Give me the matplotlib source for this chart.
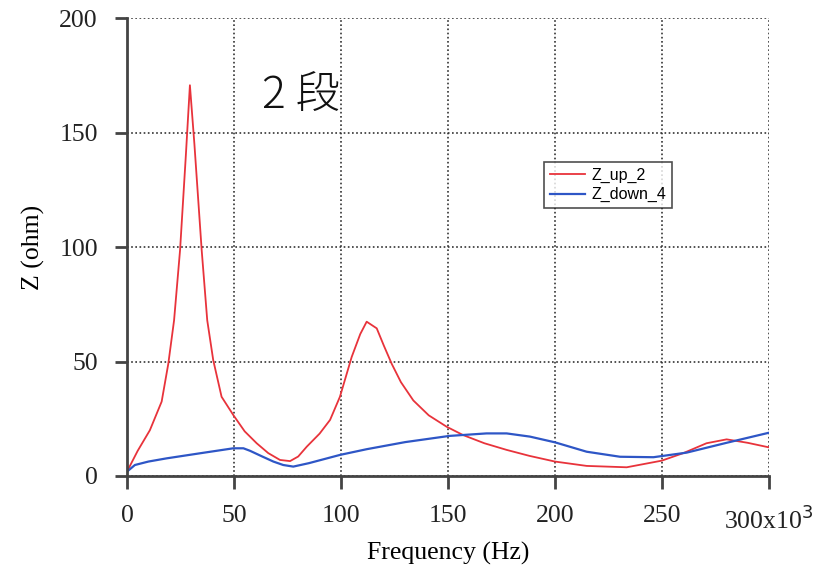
"""Impedance vs frequency for the 2-stage setup."""

import matplotlib.pyplot as plt

# frequency in kHz (axis shows x10^3 Hz)
FREQ_UP = [0, 5, 10.7, 16.2, 19.3, 22, 24.8, 27.5, 29.4, 31.5, 34.9, 37.5, 40.3, 44.2,
           49.7, 55, 60.6, 66, 71.5, 76.2, 80, 84, 90, 94.9, 99.5, 105, 109, 112,
           116.7, 120, 123.7, 128, 133.8, 141, 149.4, 157, 167, 177.4, 188, 200,
           214.8, 233.5, 249.9, 260, 270.8, 280.2, 290, 300]
Z_UP = [1.9, 11, 20, 32.5, 49, 68, 98.7, 140, 170.7, 145, 98.7, 68, 50.6, 34.6,
        26.6, 19.5, 14.3, 10, 7, 6.5, 8.5, 12.8, 18.5, 24.5, 34.6, 52, 62, 67.4,
        64.5, 57, 49, 41, 33, 26.5, 21.5, 17.9, 14.3, 11.4, 8.8, 6.3,
        4.4, 3.8, 6.7, 10, 14.3, 16, 14.5, 12.5]

FREQ_DOWN = [0, 3.7, 10, 18.5, 34, 49.7, 54.4, 57.5, 63, 68.4, 73, 77.7, 85, 99.5,
             112, 130, 150.6, 168, 177.4, 188.3, 200, 214.8, 230.4, 246, 261.5,
             280.2, 300]
Z_DOWN = [1.9, 4.8, 6.3, 7.7, 9.9, 12.1, 12.1, 11, 8.6, 6.3, 4.8, 4.1, 5.6, 9.2,
          11.7, 14.8, 17.5, 18.6, 18.6, 17.2, 14.7, 10.6, 8.4, 8.2, 10.2,
          14.5, 18.9]

X_TICKS = [0, 50, 100, 150, 200, 250, 300]
X_TICK_LABELS = ["0", "50", "100", "150", "200", "250", "300x10$^{3}$"]
Y_TICKS = [0, 50, 100, 150, 200]


def main():
    fig = plt.figure(figsize=(8.3, 5.68), dpi=100)
    ax = fig.add_axes([0.153, 0.162, 0.7735, 0.806])

    ax.plot(FREQ_UP, Z_UP, color="#e8333b", lw=1.3, label="Z_up_2")
    ax.plot(FREQ_DOWN, Z_DOWN, color="#2e56c6", lw=1.6, label="Z_down_4")

    ax.set_xlim(0, 300)
    ax.set_ylim(0, 200)
    ax.set_xticks(X_TICKS)
    ax.set_xticklabels(X_TICK_LABELS)
    ax.set_yticks(Y_TICKS)

    serif = "Liberation Serif"
    for lab in ax.get_xticklabels() + ax.get_yticklabels():
        lab.set_fontfamily(serif)
        lab.set_fontsize(18.5)

    ax.set_xlabel("Frequency (Hz)", family=serif, fontsize=18.5, labelpad=6)
    ax.set_ylabel("Z (ohm)", family=serif, fontsize=18.5, labelpad=10)

    ax.grid(True, linestyle=(0, (1, 1.5)), color="#333333", lw=1.2)
    ax.spines["top"].set_visible(False)
    ax.spines["right"].set_visible(False)
    for side in ("left", "bottom"):
        ax.spines[side].set_color("#444444")
        ax.spines[side].set_linewidth(2)
    ax.tick_params(direction="out", length=9, width=2, color="#444444",
                   pad=12, labelcolor="#222222")

    ax.text(63, 166, "2 段", family=["Noto Sans CJK JP", "DejaVu Sans"],
            fontsize=32, weight="light", color="#111111", va="center")

    leg = ax.legend(loc="upper left", bbox_to_anchor=(0.650, 0.685),
                    prop={"family": "Liberation Sans", "size": 11.5},
                    frameon=True, fancybox=False, borderpad=0.35,
                    handlelength=2.2, labelspacing=0.25, handletextpad=0.4,
                    borderaxespad=0)
    leg.get_frame().set_edgecolor("#222222")
    leg.get_frame().set_linewidth(1.2)

    fig.savefig("out.png", dpi=100)


if __name__ == "__main__":
    main()
